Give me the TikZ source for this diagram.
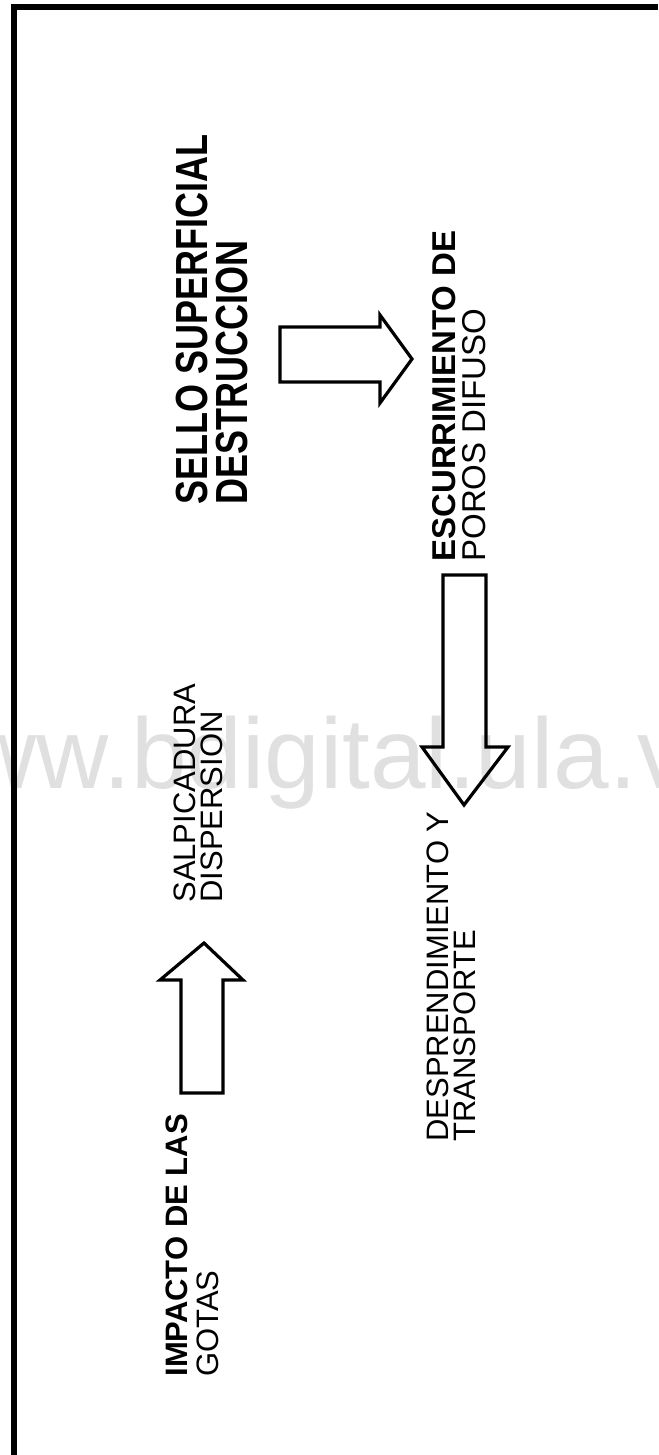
\documentclass[tikz,border=0pt]{standalone}
\usepackage{fontspec}
\setmainfont{Liberation Sans}
\newfontfamily\altafont[FakeStretch=0.8]{Liberation Sans}
\usetikzlibrary{positioning}
\definecolor{marca}{gray}{0.88}

\tikzset{
  rotulo/.style={rotate=90, anchor=base west, inner sep=0pt, align=left},
  bloque/.style={draw=black, line width=1.6pt, line join=miter},
}

\begin{document}
\begin{tikzpicture}[x=0.5pt, y=-0.5pt]
  \useasboundingbox (0,0) rectangle (658,1455);

  % --- marca de agua, debajo de todo ----------------------------------
  \begin{scope}
    \clip (0,0) rectangle (658,1455);
    \node[marca, anchor=base west, inner sep=0pt,
          font=\fontsize{50}{50}\selectfont] (marca) at (-108,788)
         {www.bdigital.ula.ve};
  \end{scope}

  % --- marco -------------------------------------------------------------
  \draw[line width=3pt] (14,1455) -- (14,7) -- (658,7);

  % --- rotulos (base = ultima linea) -------------------------------------
  \node[rotulo, font=\fontsize{22.5}{20}\selectfont\altafont\bfseries]
       (sello) at (247,505) {SELLO SUPERFICIAL\\DESTRUCCION};
  \node[rotulo, font=\fontsize{16.5}{15}\selectfont]
       (escurr) at (485,562) {\textbf{ESCURRIMIENTO DE}\\POROS DIFUSO};
  \node[rotulo, font=\fontsize{15.5}{13.5}\selectfont]
       (salpic) at (222,903) {SALPICADURA\\DISPERSION};
  \node[rotulo, font=\fontsize{15.5}{13.5}\selectfont]
       (desprend) at (475,1142) {DESPRENDIMIENTO Y\\TRANSPORTE};
  \node[rotulo, font=\fontsize{15.5}{15.5}\selectfont]
       (impacto) at (218,1377) {\textbf{IMPACTO DE LAS}\\GOTAS};

  % --- flechas de bloque -------------------------------------------------
  % sello -> escurrimiento
  \draw[bloque] (280,327) -- (380,327) -- (380,315) -- (412,359)
    -- (380,403) -- (380,382) -- (280,382) -- cycle;
  % escurrimiento -> desprendimiento
  \draw[bloque] (443,575) -- (486,575) -- (486,747) -- (508,747)
    -- (464,805) -- (422,747) -- (443,747) -- cycle;
  % impacto -> salpicadura
  \draw[bloque] (181,1093) -- (181,980) -- (160,980) -- (204,943)
    -- (243,980) -- (223,980) -- (223,1093) -- cycle;
\end{tikzpicture}
\end{document}
